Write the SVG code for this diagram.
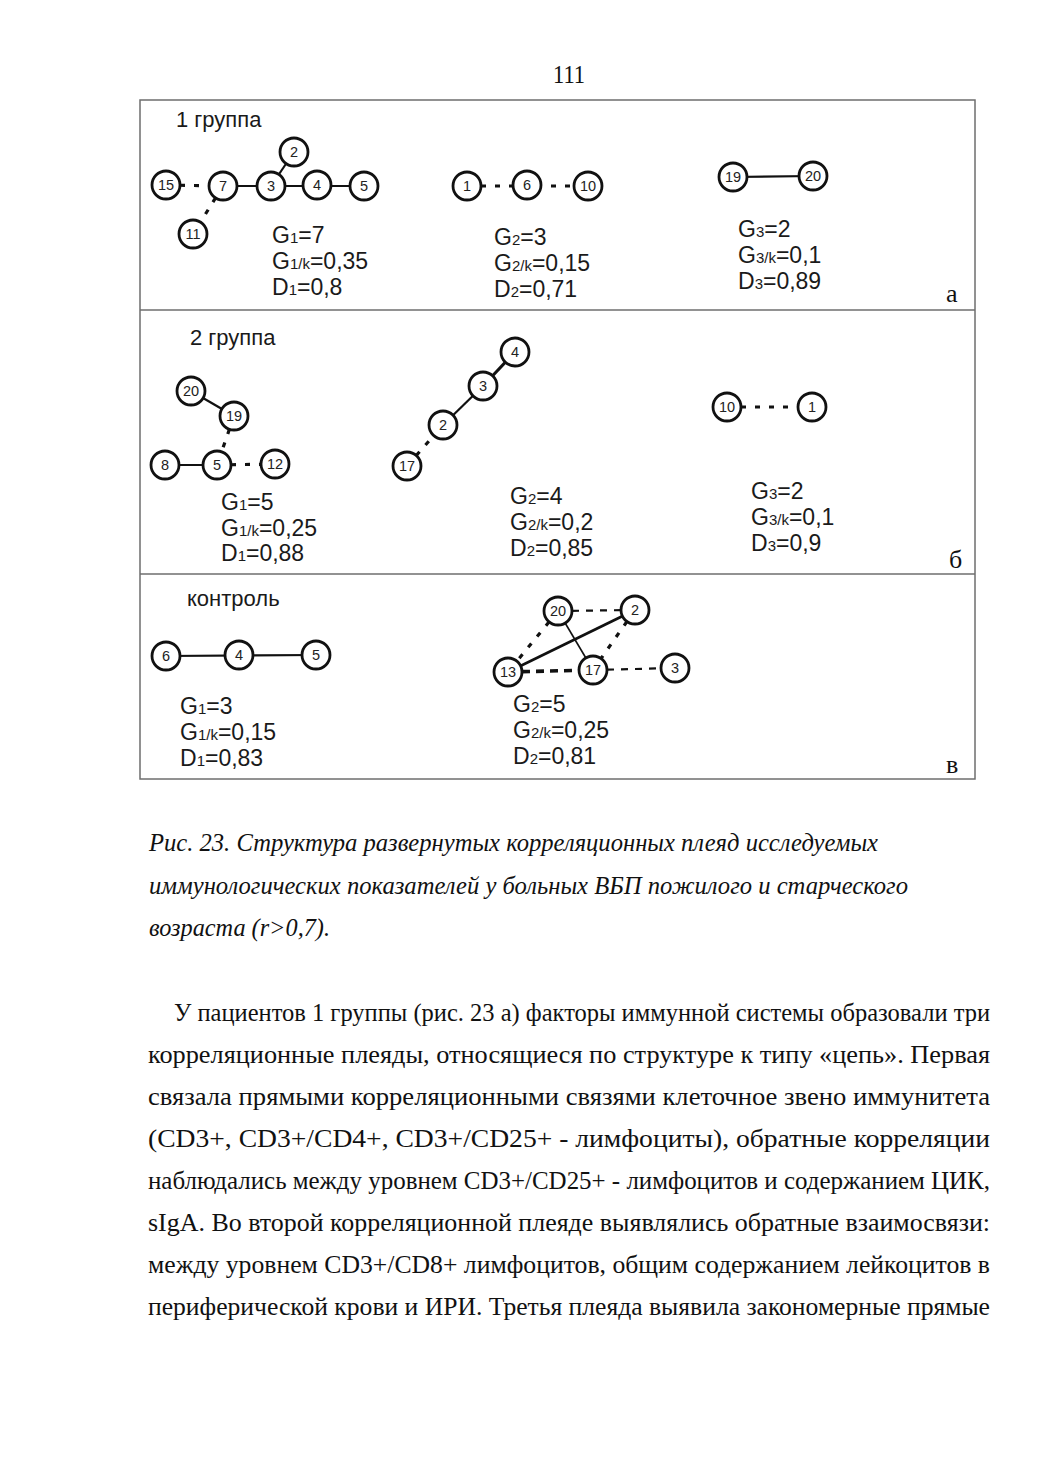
<svg xmlns="http://www.w3.org/2000/svg" width="1039" height="1471" viewBox="0 0 1039 1471">
<style>
.bg{fill:#ffffff}
.frame{fill:none;stroke:#6e6e6e;stroke-width:1.5}
.node circle{fill:#ffffff;stroke:#111111;stroke-width:2.8}
.node text{font-family:"Liberation Sans",Arial,sans-serif;font-size:14.5px;fill:#222222;text-anchor:middle;dominant-baseline:central}
.solid{stroke:#111111;stroke-width:2.2;fill:none}
.thin{stroke:#111111;stroke-width:1.6;fill:none}
.dash{stroke:#111111;stroke-width:3.2;stroke-dasharray:5 9;fill:none}
.dashm{stroke:#111111;stroke-width:2.2;stroke-dasharray:7 7;fill:none}
.dasht{stroke:#111111;stroke-width:3.6;stroke-dasharray:8 6;fill:none}
.lbl{font-family:"Liberation Sans",Arial,sans-serif;font-size:22px;fill:#1a1a1a}
.stat{font-family:"Liberation Sans",Arial,sans-serif;font-size:23px;fill:#1a1a1a}
.sub{font-size:15px}
.pl{font-family:"Liberation Serif","Times New Roman",serif;font-size:26px;fill:#111111}
.cap{font-family:"Liberation Serif","Times New Roman",serif;font-style:italic;font-size:25px;fill:#111111}
.body{font-family:"Liberation Serif","Times New Roman",serif;font-size:25px;fill:#111111}
</style>
<rect class="bg" x="0" y="0" width="1039" height="1471"/>
<text class="body" x="569" y="83" text-anchor="middle" textLength="32" lengthAdjust="spacingAndGlyphs">111</text>

<g id="frame">
<rect class="frame" x="140" y="100" width="835" height="679"/>
<line class="frame" x1="140" y1="310" x2="975" y2="310"/>
<line class="frame" x1="140" y1="574" x2="975" y2="574"/>
</g>

<g id="connectors">
<!-- panel a -->
<line class="dash" x1="166" y1="185" x2="223" y2="186"/>
<line class="solid" x1="223" y1="186" x2="364" y2="186"/>
<line class="solid" x1="271" y1="186" x2="294" y2="152"/>
<line class="dash" x1="223" y1="186" x2="193" y2="234"/>
<line class="dash" x1="467" y1="186" x2="588" y2="186"/>
<line class="solid" x1="733" y1="177" x2="813" y2="176"/>
<!-- panel b -->
<line class="solid" x1="191" y1="391" x2="234" y2="416"/>
<line class="dash" x1="234" y1="416" x2="217" y2="465"/>
<line class="solid" x1="165" y1="465" x2="217" y2="465"/>
<line class="dash" x1="217" y1="465" x2="275" y2="464"/>
<line class="dash" x1="407" y1="466" x2="443" y2="425"/>
<line class="solid" x1="443" y1="425" x2="483" y2="386"/>
<line class="solid" x1="483" y1="386" x2="515" y2="352" style="stroke-width:3"/>
<line class="dash" x1="727" y1="407" x2="812" y2="407"/>
<!-- panel v -->
<line class="solid" x1="166" y1="656" x2="316" y2="655"/>
<line class="dashm" x1="558" y1="611" x2="635" y2="610"/>
<line class="dash" x1="558" y1="611" x2="508" y2="672"/>
<line class="dash" x1="635" y1="610" x2="593" y2="670"/>
<line class="dasht" x1="508" y1="672" x2="593" y2="670"/>
<line class="dashm" x1="593" y1="670" x2="675" y2="668"/>
<line class="solid" x1="508" y1="672" x2="635" y2="610" style="stroke-width:2.8"/>
<line class="thin" x1="558" y1="611" x2="593" y2="670"/>
</g>

<!-- panel a nodes -->
<g id="a-15" class="node"><circle cx="166" cy="185" r="14"/><text x="166" y="185">15</text></g>
<g id="a-7" class="node"><circle cx="223" cy="186" r="14"/><text x="223" y="186">7</text></g>
<g id="a-3" class="node"><circle cx="271" cy="186" r="14"/><text x="271" y="186">3</text></g>
<g id="a-4" class="node"><circle cx="317" cy="185" r="14"/><text x="317" y="185">4</text></g>
<g id="a-5" class="node"><circle cx="364" cy="186" r="14"/><text x="364" y="186">5</text></g>
<g id="a-2" class="node"><circle cx="294" cy="152" r="14"/><text x="294" y="152">2</text></g>
<g id="a-11" class="node"><circle cx="193" cy="234" r="14"/><text x="193" y="234">11</text></g>
<g id="a-1" class="node"><circle cx="467" cy="186" r="14"/><text x="467" y="186">1</text></g>
<g id="a-6" class="node"><circle cx="527" cy="185" r="14"/><text x="527" y="185">6</text></g>
<g id="a-10" class="node"><circle cx="588" cy="186" r="14"/><text x="588" y="186">10</text></g>
<g id="a-19" class="node"><circle cx="733" cy="177" r="14"/><text x="733" y="177">19</text></g>
<g id="a-20" class="node"><circle cx="813" cy="176" r="14"/><text x="813" y="176">20</text></g>

<!-- panel b nodes -->
<g id="b-20" class="node"><circle cx="191" cy="391" r="14"/><text x="191" y="391">20</text></g>
<g id="b-19" class="node"><circle cx="234" cy="416" r="14"/><text x="234" y="416">19</text></g>
<g id="b-8" class="node"><circle cx="165" cy="465" r="14"/><text x="165" y="465">8</text></g>
<g id="b-5" class="node"><circle cx="217" cy="465" r="14"/><text x="217" y="465">5</text></g>
<g id="b-12" class="node"><circle cx="275" cy="464" r="14"/><text x="275" y="464">12</text></g>
<g id="b-17" class="node"><circle cx="407" cy="466" r="14"/><text x="407" y="466">17</text></g>
<g id="b-2" class="node"><circle cx="443" cy="425" r="14"/><text x="443" y="425">2</text></g>
<g id="b-3" class="node"><circle cx="483" cy="386" r="14"/><text x="483" y="386">3</text></g>
<g id="b-4" class="node"><circle cx="515" cy="352" r="14"/><text x="515" y="352">4</text></g>
<g id="b-10" class="node"><circle cx="727" cy="407" r="14"/><text x="727" y="407">10</text></g>
<g id="b-1" class="node"><circle cx="812" cy="407" r="14"/><text x="812" y="407">1</text></g>

<!-- panel v nodes -->
<g id="c-6" class="node"><circle cx="166" cy="656" r="14"/><text x="166" y="656">6</text></g>
<g id="c-4" class="node"><circle cx="239" cy="655" r="14"/><text x="239" y="655">4</text></g>
<g id="c-5" class="node"><circle cx="316" cy="655" r="14"/><text x="316" y="655">5</text></g>
<g id="c-20" class="node"><circle cx="558" cy="611" r="14"/><text x="558" y="611">20</text></g>
<g id="c-2" class="node"><circle cx="635" cy="610" r="14"/><text x="635" y="610">2</text></g>
<g id="c-13" class="node"><circle cx="508" cy="672" r="14"/><text x="508" y="672">13</text></g>
<g id="c-17" class="node"><circle cx="593" cy="670" r="14"/><text x="593" y="670">17</text></g>
<g id="c-3" class="node"><circle cx="675" cy="668" r="14"/><text x="675" y="668">3</text></g>

<g id="labels">
<text class="lbl" x="176" y="127">1 группа</text>
<text class="stat" x="272" y="243">G<tspan class="sub">1</tspan>=7</text>
<text class="stat" x="272" y="269">G<tspan class="sub">1/k</tspan>=0,35</text>
<text class="stat" x="272" y="295">D<tspan class="sub">1</tspan>=0,8</text>
<text class="stat" x="494" y="245">G<tspan class="sub">2</tspan>=3</text>
<text class="stat" x="494" y="271">G<tspan class="sub">2/k</tspan>=0,15</text>
<text class="stat" x="494" y="297">D<tspan class="sub">2</tspan>=0,71</text>
<text class="stat" x="738" y="237">G<tspan class="sub">3</tspan>=2</text>
<text class="stat" x="738" y="263">G<tspan class="sub">3/k</tspan>=0,1</text>
<text class="stat" x="738" y="289">D<tspan class="sub">3</tspan>=0,89</text>
<text class="pl" x="946" y="302">а</text>

<text class="lbl" x="190" y="345">2 группа</text>
<text class="stat" x="221" y="510">G<tspan class="sub">1</tspan>=5</text>
<text class="stat" x="221" y="536">G<tspan class="sub">1/k</tspan>=0,25</text>
<text class="stat" x="221" y="561">D<tspan class="sub">1</tspan>=0,88</text>
<text class="stat" x="510" y="504">G<tspan class="sub">2</tspan>=4</text>
<text class="stat" x="510" y="530">G<tspan class="sub">2/k</tspan>=0,2</text>
<text class="stat" x="510" y="556">D<tspan class="sub">2</tspan>=0,85</text>
<text class="stat" x="751" y="499">G<tspan class="sub">3</tspan>=2</text>
<text class="stat" x="751" y="525">G<tspan class="sub">3/k</tspan>=0,1</text>
<text class="stat" x="751" y="551">D<tspan class="sub">3</tspan>=0,9</text>
<text class="pl" x="949" y="568">б</text>

<text class="lbl" x="187" y="606">контроль</text>
<text class="stat" x="180" y="714">G<tspan class="sub">1</tspan>=3</text>
<text class="stat" x="180" y="740">G<tspan class="sub">1/k</tspan>=0,15</text>
<text class="stat" x="180" y="766">D<tspan class="sub">1</tspan>=0,83</text>
<text class="stat" x="513" y="712">G<tspan class="sub">2</tspan>=5</text>
<text class="stat" x="513" y="738">G<tspan class="sub">2/k</tspan>=0,25</text>
<text class="stat" x="513" y="764">D<tspan class="sub">2</tspan>=0,81</text>
<text class="pl" x="946" y="773">в</text>
</g>

<g id="caption">
<text class="cap" x="149" y="851" textLength="729" lengthAdjust="spacingAndGlyphs">Рис. 23. Структура развернутых корреляционных плеяд исследуемых</text>
<text class="cap" x="149" y="894" textLength="759" lengthAdjust="spacingAndGlyphs">иммунологических показателей у больных ВБП пожилого и старческого</text>
<text class="cap" x="149" y="936" textLength="181" lengthAdjust="spacingAndGlyphs">возраста (r&gt;0,7).</text>
</g>

<g id="body">
<text class="body" x="174" y="1021" textLength="816" lengthAdjust="spacingAndGlyphs">У пациентов 1 группы (рис. 23 а) факторы иммунной системы образовали три</text>
<text class="body" x="148" y="1063" textLength="842" lengthAdjust="spacingAndGlyphs">корреляционные плеяды, относящиеся по структуре к типу «цепь». Первая</text>
<text class="body" x="148" y="1105" textLength="842" lengthAdjust="spacingAndGlyphs">связала прямыми корреляционными связями клеточное звено иммунитета</text>
<text class="body" x="148" y="1147" textLength="842" lengthAdjust="spacingAndGlyphs">(CD3+, CD3+/CD4+, CD3+/CD25+ - лимфоциты), обратные корреляции</text>
<text class="body" x="148" y="1189" textLength="842" lengthAdjust="spacingAndGlyphs">наблюдались между уровнем CD3+/CD25+ - лимфоцитов и содержанием ЦИК,</text>
<text class="body" x="148" y="1231" textLength="842" lengthAdjust="spacingAndGlyphs">sIgA. Во второй корреляционной плеяде выявлялись обратные взаимосвязи:</text>
<text class="body" x="148" y="1273" textLength="842" lengthAdjust="spacingAndGlyphs">между уровнем CD3+/CD8+ лимфоцитов, общим содержанием лейкоцитов в</text>
<text class="body" x="148" y="1315" textLength="842" lengthAdjust="spacingAndGlyphs">периферической крови и ИРИ. Третья плеяда выявила закономерные прямые</text>
</g>
</svg>
